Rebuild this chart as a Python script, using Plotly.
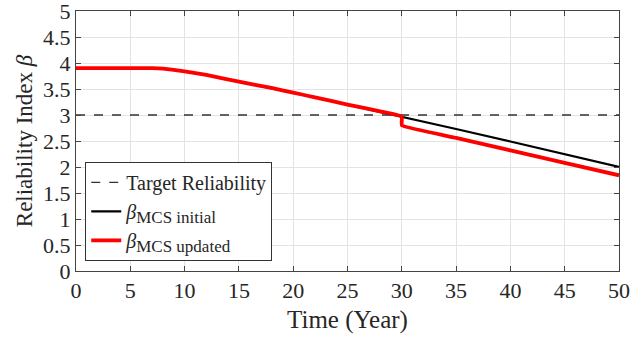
import plotly.graph_objects as go

# Data
years_red = [0, 5, 7, 8, 10, 12, 15, 18, 20, 22, 25, 28, 30, 30, 35, 40, 45, 50]
beta_updated = [3.9, 3.9, 3.9, 3.89, 3.84, 3.77, 3.64, 3.52, 3.43, 3.34, 3.2, 3.07, 2.97, 2.8, 2.56, 2.32, 2.08, 1.84]
years_black = [0, 5, 7, 8, 10, 12, 15, 18, 20, 22, 25, 28, 30, 35, 40, 45, 50]
beta_initial = [3.9, 3.9, 3.9, 3.89, 3.84, 3.77, 3.64, 3.52, 3.43, 3.34, 3.2, 3.07, 2.97, 2.73, 2.49, 2.24, 2.0]
target_x = [0, 50]
target_y = [3, 3]

x_ticks = [0, 5, 10, 15, 20, 25, 30, 35, 40, 45, 50]
y_ticks = [0, 0.5, 1, 1.5, 2, 2.5, 3, 3.5, 4, 4.5, 5]
y_tick_labels = ["0", "0.5", "1", "1.5", "2", "2.5", "3", "3.5", "4", "4.5", "5"]

FONT = "Liberation Serif, Times New Roman, serif"
TXT = "#262626"

fig = go.Figure()
fig.add_trace(go.Scatter(x=target_x, y=target_y, mode="lines", name="Target Reliability",
                         line=dict(color="#333333", width=1.3, dash="dash")))
fig.add_trace(go.Scatter(x=years_black, y=beta_initial, mode="lines",
                         name="<i>β</i><sub><span style='font-size:17px'>MCS initial</span></sub>",
                         line=dict(color="black", width=2.2)))
fig.add_trace(go.Scatter(x=years_red, y=beta_updated, mode="lines",
                         name="<i>β</i><sub><span style='font-size:17px'>MCS updated</span></sub>",
                         line=dict(color="#ff0000", width=3.8, shape="spline", smoothing=0.3)))

axis_common = dict(
    showgrid=True, gridcolor="#e3e3e3", gridwidth=1,
    showline=True, linecolor="#444444", linewidth=1, mirror="ticks",
    ticks="inside", ticklen=5, tickcolor="#444444",
    zeroline=False, automargin=False, ticklabeloverflow="allow",
    tickfont=dict(family=FONT, size=22, color=TXT),
)

fig.update_xaxes(range=[0, 50], tickvals=x_ticks,
                 title=dict(text="Time (Year)", font=dict(family=FONT, size=25, color=TXT), standoff=8),
                 **axis_common)
fig.update_yaxes(range=[0, 5], tickvals=y_ticks, ticktext=y_tick_labels,
                 title=dict(text="Reliability Index <i>β</i>", font=dict(family=FONT, size=23, color=TXT), standoff=4),
                 **axis_common)

fig.update_layout(
    width=632, height=340,
    margin=dict(l=76, r=13, t=11, b=69),
    plot_bgcolor="white", paper_bgcolor="white",
    font=dict(family=FONT, color=TXT),
    legend=dict(x=0.017, y=0.42, xanchor="left", yanchor="top",
                bgcolor="white", bordercolor="#333333", borderwidth=1,
                font=dict(family=FONT, size=20, color=TXT),
                tracegroupgap=0, itemwidth=30),
    showlegend=True,
)

fig.write_html("out.html")
